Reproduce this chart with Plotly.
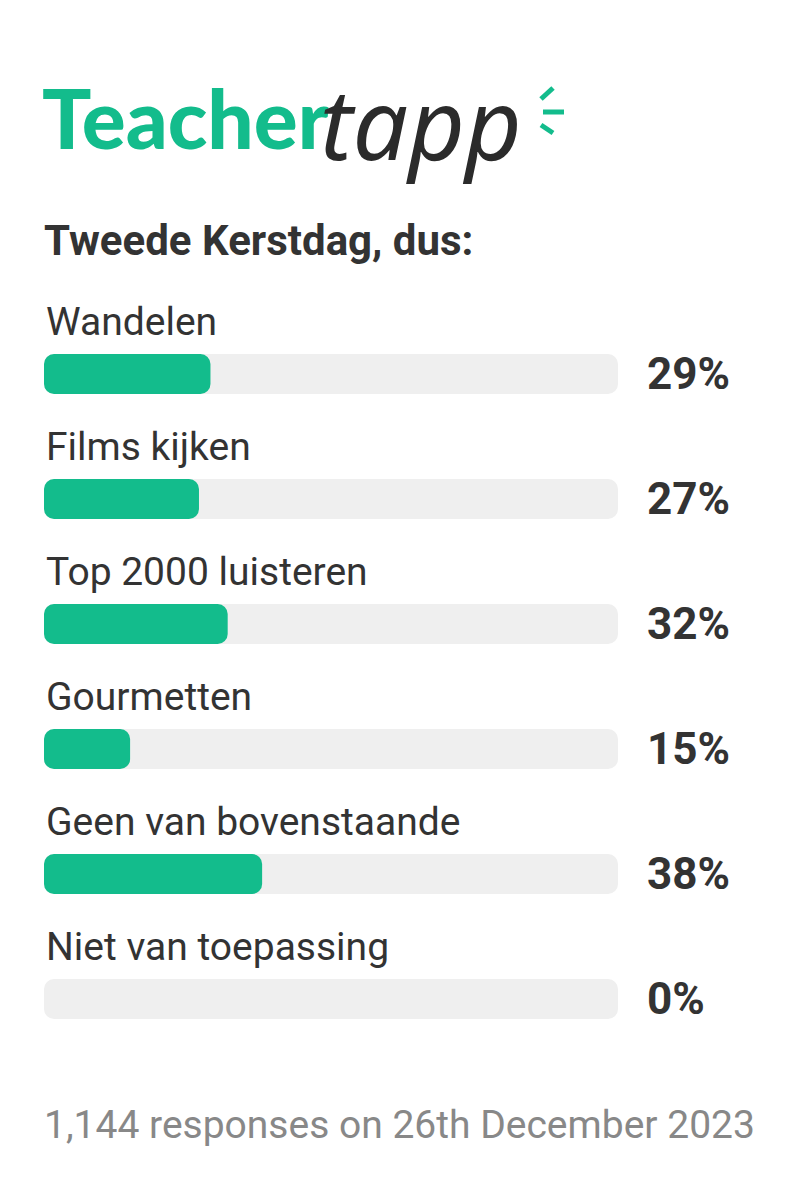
import plotly.graph_objects as go

categories = ["Wandelen", "Films kijken", "Top 2000 luisteren", "Gourmetten",
              "Geen van bovenstaande", "Niet van toepassing"]
values = [29, 27, 32, 15, 38, 0]
pct_labels = ["29%", "27%", "32%", "15%", "38%", "0%"]
track = [100] * len(categories)
bases = [0] * len(categories)

title = "Tweede Kerstdag, dus:"
footer = "1,144 responses on 26th December 2023"

# page is rendered with an 8px body margin; work in page pixels
OFF = 8
W, H = 802 - 2 * OFF, 1200 - 2 * OFF


def px(x):
    return (x - OFF) / W


def py(y):
    return 1 - (y - OFF) / H


GREEN = "#13BC8C"
TRACK = "#EFEFEF"
DARK = "#333333"

fig = go.Figure()
# an explicit base makes plotly round both ends of each bar
fig.add_trace(go.Bar(y=categories, x=track, base=bases, orientation="h",
                     marker=dict(color=TRACK, line_width=0), width=0.32, hoverinfo="skip"))
fig.add_trace(go.Bar(y=categories, x=values, base=bases, orientation="h",
                     marker=dict(color=GREEN, line_width=0), width=0.32, hoverinfo="skip"))

annotations = []
for c, p in zip(categories, pct_labels):
    annotations.append(dict(x=0, y=c, xref="x", yref="y", text=c, showarrow=False,
                            xanchor="left", yanchor="middle", yshift=52, xshift=0,
                            font=dict(family="Roboto", size=39, color=DARK)))
    annotations.append(dict(x=px(645), y=c, xref="paper", yref="y", text=f"<b>{p}</b>",
                            showarrow=False, xanchor="left", yanchor="middle", yshift=0,
                            font=dict(family="Roboto", size=44, color=DARK)))

annotations.append(dict(x=px(42), y=py(240), xref="paper", yref="paper",
                        text=f"<b>{title}</b>", showarrow=False, xanchor="left",
                        yanchor="middle", font=dict(family="Roboto", size=42, color=DARK)))
annotations.append(dict(x=px(42), y=py(1125), xref="paper", yref="paper",
                        text=footer, showarrow=False, xanchor="left", yanchor="middle",
                        font=dict(family="Roboto", size=39, color="#888888")))
# logo
annotations.append(dict(x=px(40), y=py(117), xref="paper", yref="paper",
                        text="Teacher", showarrow=False, xanchor="left",
                        yanchor="middle",
                        font=dict(family="Lato", size=82, color=GREEN, weight=900)))
annotations.append(dict(x=px(318), y=py(122), xref="paper", yref="paper",
                        text="<i>tapp</i>", showarrow=False, xanchor="left",
                        yanchor="middle", font=dict(family="Noto Sans", size=98, color="#2b2b2b")))

shapes = []
for (x0, y0, x1, y1) in [(541, 99, 553, 88), (543, 112, 564, 112), (541, 125, 553, 133)]:
    shapes.append(dict(type="line", xref="paper", yref="paper",
                       x0=px(x0), y0=py(y0), x1=px(x1), y1=py(y1),
                       line=dict(color=GREEN, width=5)))

fig.update_layout(
    width=W, height=H, margin=dict(l=0, r=0, t=0, b=0),
    paper_bgcolor="white", plot_bgcolor="white",
    barmode="overlay", barcornerradius=10, showlegend=False,
    xaxis=dict(range=[0, 100], domain=[px(44), px(618)], visible=False, fixedrange=True),
    yaxis=dict(range=[len(categories) - 0.5, -0.5], domain=[py(1061.5), py(311.5)],
               visible=False, fixedrange=True),
    annotations=annotations, shapes=shapes,
)
fig.write_html("out.html")
